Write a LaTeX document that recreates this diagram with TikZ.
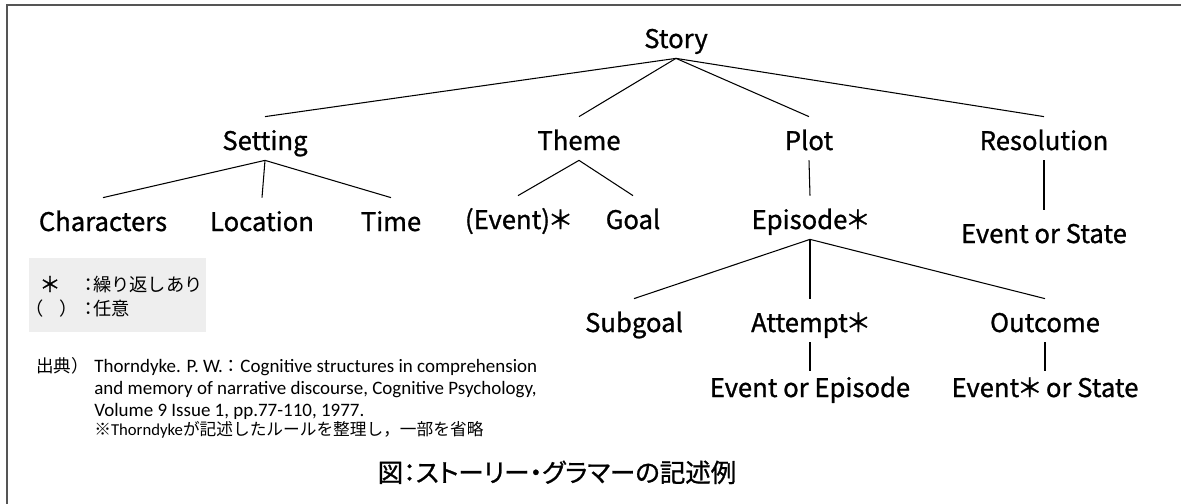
\documentclass[tikz,border=0pt]{standalone}
\usepackage{fontspec}
\setmainfont{Noto Sans CJK JP}
\newfontfamily\jpfont{Noto Sans CJK JP}
\newfontfamily\propfont{Noto Sans CJK JP}[RawFeature=+palt]
\newfontfamily\treefont{Noto Sans CJK JP}[RawFeature=+palt, FakeBold=1]
\newfontfamily\reffont{Carlito}
\definecolor{framegray}{HTML}{555555}
\definecolor{legendgray}{HTML}{EEEEEE}
\tikzset{
  lbl/.style={font=\treefont\fontsize{14.6}{17}\selectfont, inner sep=0pt,
    text height=18.8pt, text depth=5.7pt, anchor=base},
  key/.style={font=\jpfont\fontsize{10.4}{12}\selectfont, inner sep=0pt},
  cite/.style={font=\reffont\fontsize{10.8}{13}\selectfont, inner sep=0pt, anchor=base west},
  note/.style={font=\reffont\fontsize{9.5}{11}\selectfont, inner sep=0pt, anchor=base west},
  caption/.style={font=\treefont\fontsize{14.5}{17}\selectfont, inner sep=0pt, anchor=base},
  branch/.style={line width=0.6pt}
}

\begin{document}
\begin{tikzpicture}[x=0.02cm, y=-0.02cm]
  \useasboundingbox (0,0) rectangle (1181,504);
  % frame
  \draw[framegray, line width=1pt] (7,504) -- (7,5) -- (1181,5);

  % tree
  \node[lbl] (story) at (676,48) {Story};
  \node[lbl] (setting) at (265,150) {Setting};
  \node[lbl] (theme) at (579,150) {Theme};
  \node[lbl] (plot) at (809,150) {Plot};
  \node[lbl] (resolution) at (1044,150) {Resolution};
  \node[lbl] (characters) at (103,231) {Characters};
  \node[lbl] (location) at (262,231) {Location};
  \node[lbl] (time) at (391,231) {Time};
  \node[lbl] (event) at (518,229) {(Event)＊};
  \node[lbl] (goal) at (633,229) {Goal};
  \node[lbl] (episode) at (810,229) {Episode＊};
  \node[lbl] (resstate) at (1044,243) {Event or State};
  \node[lbl] (subgoal) at (634,332) {Subgoal};
  \node[lbl] (attempt) at (810,332) {Attempt＊};
  \node[lbl] (outcome) at (1045,332) {Outcome};
  \node[lbl] (evepisode) at (810,397) {Event or Episode};
  \node[lbl] (evstate) at (1045,397) {Event＊ or State};

  \draw[branch] (story.south) -- (setting.north);
  \draw[branch] (story.south) -- (theme.north);
  \draw[branch] (story.south) -- (plot.north);
  \draw[branch] (story.south) -- (resolution.north);
  \draw[branch] (setting.south) -- (characters.north);
  \draw[branch] (setting.south) -- (location.north);
  \draw[branch] (setting.south) -- (time.north);
  \draw[branch] (theme.south) -- (event.north);
  \draw[branch] (theme.south) -- (goal.north);
  \draw[branch] (plot.south) -- (episode.north);
  \draw[branch] (resolution.south) -- (resstate.north);
  \draw[branch] (episode.south) -- (subgoal.north);
  \draw[branch] (episode.south) -- (attempt.north);
  \draw[branch] (episode.south) -- (outcome.north);
  \draw[branch, shorten >=-4pt] (attempt.south) -- (evepisode.north);
  \draw[branch, shorten >=-4pt] (outcome.south) -- (evstate.north);

  % legend
  \fill[legendgray] (29,258) rectangle (206,332);
  \node[key, anchor=base, font=\treefont\fontsize{12}{14}\selectfont] (star) at (50,292) {＊};
  \node[key, anchor=base] (paren) at (52,315) {（\hspace{0.85em}）};
  \node[key, anchor=base west] (repeat) at (84,291) {\makebox[5pt]{：}繰り返しあり};
  \node[key, anchor=base west] (optional) at (84,315) {\makebox[5pt]{：}任意};

  % source
  \node[cite] (source) at (36,372) {\jpfont\fontsize{10}{12}\selectfont 出典）};
  \node[cite] (ref1) at (94,372) {Thorndyke. P. W.{\jpfont\fontsize{10}{12}\selectfont ：}Cognitive structures in comprehension};
  \node[cite] (ref2) at (94,394) {and memory of narrative discourse, Cognitive Psychology,};
  \node[cite] (ref3) at (94,416) {Volume 9 Issue 1, pp.77-110, 1977.};
  \node[note] (remark) at (94,435) {{\jpfont ※}Thorndyke{\jpfont が記述したルールを整理し，一部を省略}};

  \node[caption] (title) at (557,482) {図：ストーリー・グラマーの記述例};
\end{tikzpicture}
\end{document}
